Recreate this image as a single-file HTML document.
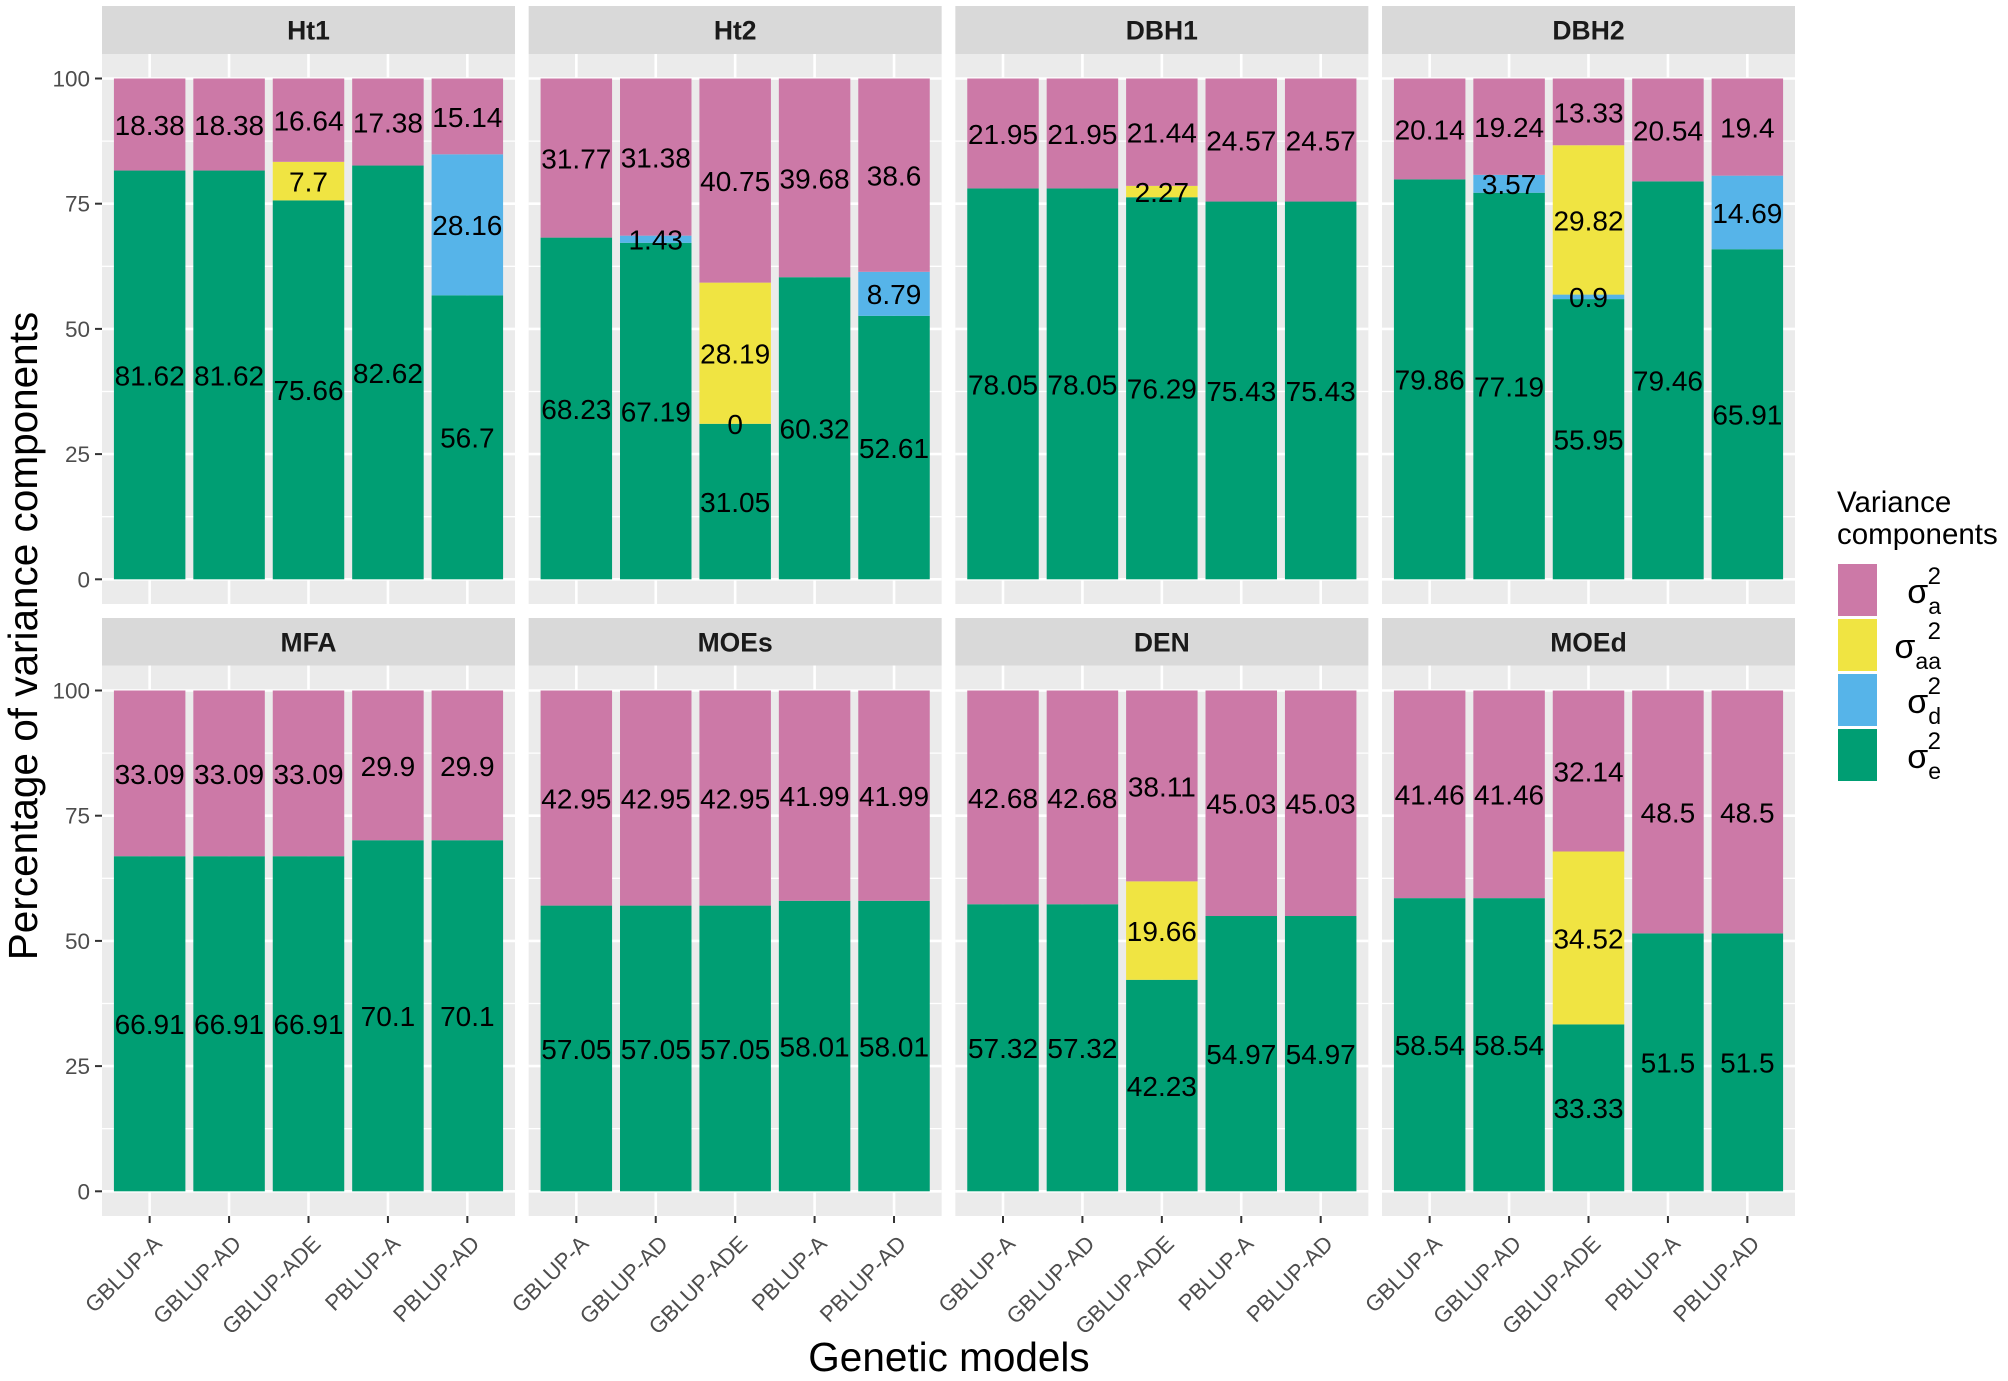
<!DOCTYPE html>
<html lang="en">
<head>
<meta charset="utf-8">
<title>Percentage of variance components</title>
<style>
html,body{margin:0;padding:0;background:#fff;}
svg{display:block;font-family:"Liberation Sans",Arial,sans-serif;}
</style>
</head>
<body>
<svg id="chart" xmlns="http://www.w3.org/2000/svg" width="2008" height="1381" viewBox="0 0 2008 1381"></svg>
<script>
const panelNames = ["Ht1","Ht2","DBH1","DBH2","MFA","MOEs","DEN","MOEd"];
const modelNames = ["GBLUP-A","GBLUP-AD","GBLUP-ADE","PBLUP-A","PBLUP-AD"];
const yTicks = [0,25,50,75,100];
const yMinorTicks = [12.5,37.5,62.5,87.5];
const componentKeys = ["a","aa","d","e"];
const componentColors = ["#CC79A7","#F0E442","#56B4E9","#009E73"];

// one row per panel, one value per model; null = component not in that model
const sigmaA = [
  [18.38,18.38,16.64,17.38,15.14],
  [31.77,31.38,40.75,39.68,38.6],
  [21.95,21.95,21.44,24.57,24.57],
  [20.14,19.24,13.33,20.54,19.4],
  [33.09,33.09,33.09,29.9,29.9],
  [42.95,42.95,42.95,41.99,41.99],
  [42.68,42.68,38.11,45.03,45.03],
  [41.46,41.46,32.14,48.5,48.5]
];
const sigmaAA = [
  [null,null,7.7,null,null],
  [null,null,28.19,null,null],
  [null,null,2.27,null,null],
  [null,null,29.82,null,null],
  [null,null,null,null,null],
  [null,null,null,null,null],
  [null,null,19.66,null,null],
  [null,null,34.52,null,null]
];
const sigmaD = [
  [null,null,null,null,28.16],
  [null,1.43,0,null,8.79],
  [null,null,null,null,null],
  [null,3.57,0.9,null,14.69],
  [null,null,null,null,null],
  [null,null,null,null,null],
  [null,null,null,null,null],
  [null,null,null,null,null]
];
const sigmaE = [
  [81.62,81.62,75.66,82.62,56.7],
  [68.23,67.19,31.05,60.32,52.61],
  [78.05,78.05,76.29,75.43,75.43],
  [79.86,77.19,55.95,79.46,65.91],
  [66.91,66.91,66.91,70.1,70.1],
  [57.05,57.05,57.05,58.01,58.01],
  [57.32,57.32,42.23,54.97,54.97],
  [58.54,58.54,33.33,51.5,51.5]
];

const NS = "http://www.w3.org/2000/svg";
const svg = document.getElementById("chart");

function rect(parent, x, y, w, h, fill) {
  const el = document.createElementNS(NS, "rect");
  el.setAttribute("x", x);
  el.setAttribute("y", y);
  el.setAttribute("width", w);
  el.setAttribute("height", h);
  el.setAttribute("fill", fill);
  parent.appendChild(el);
  return el;
}
function line(parent, x1, y1, x2, y2, stroke, sw) {
  const el = document.createElementNS(NS, "line");
  el.setAttribute("x1", x1);
  el.setAttribute("y1", y1);
  el.setAttribute("x2", x2);
  el.setAttribute("y2", y2);
  el.setAttribute("stroke", stroke);
  el.setAttribute("stroke-width", sw);
  parent.appendChild(el);
  return el;
}
function text(parent, x, y, str, size, fill, anchor, weight) {
  const el = document.createElementNS(NS, "text");
  el.setAttribute("x", x);
  el.setAttribute("y", y);
  el.setAttribute("font-size", size);
  el.setAttribute("fill", fill);
  el.setAttribute("text-anchor", anchor || "start");
  if (weight) el.setAttribute("font-weight", weight);
  el.textContent = str;
  parent.appendChild(el);
  return el;
}
function group(parent) {
  const el = document.createElementNS(NS, "g");
  parent.appendChild(el);
  return el;
}

const panelWidth = 413;
const panelStep = 426.67;
const panelLeft = 102;
const rowGeom = [
  {stripTop: 6, panelTop: 54, panelBottom: 604, y100: 78.5, y0: 579.3},
  {stripTop: 618, panelTop: 665.5, panelBottom: 1216, y100: 690.5, y0: 1191.3}
];
const bandUnit = panelWidth / 5.2;
const barWidth = bandUnit * 0.9;

function xScale(col, index) {
  return panelLeft + col * panelStep + (0.6 + index) * bandUnit;
}
function yScale(row, value) {
  const g = rowGeom[row];
  return g.y0 - (value / 100) * (g.y0 - g.y100);
}

panelNames.forEach(function (name, p) {
  const row = Math.floor(p / 4);
  const col = p % 4;
  const g = rowGeom[row];
  const left = panelLeft + col * panelStep;

  const panel = group(svg);
  
  

  const strip = rect(panel, left, g.stripTop, panelWidth, g.panelTop - g.stripTop, "#D9D9D9");
  
  

  const stripLabel = text(panel, left + panelWidth / 2, g.stripTop + 33.5, name, 26.5, "#1A1A1A", "middle", "bold");
  
  

  const bg = rect(panel, left, g.panelTop, panelWidth, g.panelBottom - g.panelTop, "#EBEBEB");
  
  

  yMinorTicks.forEach(function (t) {
    const gl = line(panel, left, yScale(row, t), left + panelWidth, yScale(row, t), "#FFFFFF", 1.3);
    
    
  });
  yTicks.forEach(function (t) {
    const gl = line(panel, left, yScale(row, t), left + panelWidth, yScale(row, t), "#FFFFFF", 2.6);
    
    
  });
  modelNames.forEach(function (m, i) {
    const gl = line(panel, xScale(col, i), g.panelTop, xScale(col, i), g.panelBottom, "#FFFFFF", 2.6);
    
    
  });

  const series = [sigmaE[p], sigmaD[p], sigmaAA[p], sigmaA[p]];
  const order = [3, 2, 1, 0];
  const labels = [];
  modelNames.forEach(function (m, i) {
    let base = 0;
    series.forEach(function (values, s) {
      const v = values[i];
      if (v === null) return;
      const yTop = yScale(row, base + v);
      const yBot = yScale(row, base);
      const bar = rect(panel, xScale(col, i) - barWidth / 2, yTop, barWidth, yBot - yTop, componentColors[order[s]]);
      
      
      labels.push({x: xScale(col, i), y: yScale(row, base + v / 2), v: v});
      base += v;
    });
  });
  labels.forEach(function (l) {
    const lab = text(panel, l.x, l.y + 10.4, String(l.v), 28, "#000000", "middle");
    
    
  });

  if (col === 0) {
    yTicks.forEach(function (t) {
      const tk = line(panel, left - 7, yScale(row, t), left, yScale(row, t), "#333333", 2);
      
      
      const tl = text(panel, left - 12, yScale(row, t) + 8, String(t), 22.5, "#4D4D4D", "end");
      
      
    });
  }
  if (row === 1) {
    modelNames.forEach(function (m, i) {
      const cx = xScale(col, i);
      const tk = line(panel, cx, g.panelBottom, cx, g.panelBottom + 7, "#333333", 2);
      
      
      const ax = cx + 13.5;
      const ay = g.panelBottom + 29;
      const tl = text(panel, ax, ay, m, 22.2, "#4D4D4D", "end");
      tl.setAttribute("transform", "rotate(-45 " + ax + " " + ay + ")");
      
      
    });
  }
});

const xTitle = text(svg, 949, 1371, "Genetic models", 40.5, "#000000", "middle");



const yTitle = text(svg, 37, 636, "Percentage of variance components", 40.5, "#000000", "middle");
yTitle.setAttribute("transform", "rotate(-90 37 636)");



const legend = group(svg);



const legendTitle1 = text(legend, 1837, 512, "Variance", 29.5, "#000000");


const legendTitle2 = text(legend, 1837, 544, "components", 29.5, "#000000");



componentKeys.forEach(function (k, i) {
  const top = 564 + i * 55;
  const swatch = rect(legend, 1838, top, 39, 52, componentColors[i]);
  
  

  const sub = text(legend, 1941, top + 50, k, 23, "#000000", "end");
  
  
  const subWidth = k.length * 12.8;

  const sup = text(legend, 1941, top + 20, "2", 24, "#000000", "end");
  
  

  const sigma = text(legend, 1941 - subWidth, top + 39, "σ", 34, "#000000", "end");
  
  
});
</script>
</body>
</html>
